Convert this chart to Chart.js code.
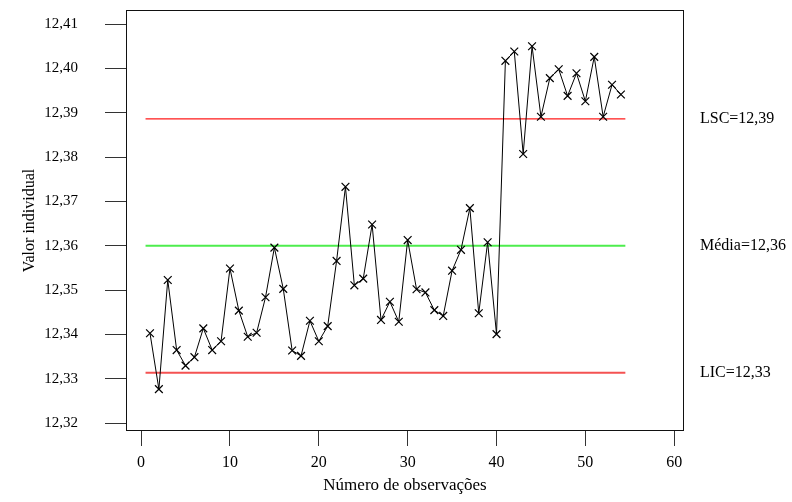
<!DOCTYPE html>
<html>
<head>
<meta charset="utf-8">
<script src="https://cdn.jsdelivr.net/npm/chart.js@4.4.1/dist/chart.umd.min.js"></script>
<style>
  html, body { margin: 0; padding: 0; background: #fff; }
  #wrap { width: 792px; height: 502px; }
</style>
</head>
<body>
<div id="wrap"><canvas id="grafico" width="792" height="502"></canvas></div>
<script>
// valores individuais (obs 1..54)
const valores = [
  12.3403, 12.3277, 12.3523, 12.3365, 12.3330, 12.3349, 12.3414, 12.3365, 12.3385, 12.3549,
  12.3454, 12.3395, 12.3404, 12.3484, 12.3596, 12.3503, 12.3364, 12.3352, 12.3431, 12.3385,
  12.3419, 12.3566, 12.3733, 12.3511, 12.3526, 12.3648, 12.3433, 12.3474, 12.3429, 12.3613,
  12.3502, 12.3495, 12.3455, 12.3442, 12.3544, 12.3591, 12.3685, 12.3448, 12.3608, 12.3401,
  12.4017, 12.4038, 12.3807, 12.4050, 12.3891, 12.3978, 12.3998, 12.3938, 12.3989, 12.3926,
  12.4026, 12.3891, 12.3963, 12.3941
];

const LSC = 12.3886;
const MEDIA = 12.3600;
const LIC = 12.3314;
const limites = [LSC, MEDIA, LIC];
const rotulosLimites = ['LSC=12,39', 'Média=12,36', 'LIC=12,33'];
const inicioLinha = 0.5;
const fimLinha = 54.5;

const fonte = "'Liberation Serif', 'Times New Roman', serif";

const pontos = valores.map((v, i) => ({ x: i + 1, y: v }));
const linhaLimite = v => [{ x: inicioLinha, y: v }, { x: fimLinha, y: v }];

// moldura completa em volta da area do grafico
const moldura = {
  id: 'moldura',
  afterDraw(chart) {
    const { ctx, chartArea: a } = chart;
    ctx.save();
    ctx.strokeStyle = '#111';
    ctx.lineWidth = 1;
    ctx.strokeRect(Math.round(a.left) + 0.5, Math.round(a.top) + 0.5,
      Math.round(a.right - a.left) - 1, Math.round(a.bottom - a.top) - 1);
    ctx.restore();
  }
};

// textos LSC / Media / LIC a direita
const rotulosDireita = {
  id: 'rotulosDireita',
  afterDraw(chart) {
    const { ctx, chartArea } = chart;
    const y = chart.scales.y;
    ctx.save();
    ctx.font = '16px ' + fonte;
    ctx.fillStyle = '#000';
    ctx.textAlign = 'left';
    ctx.textBaseline = 'middle';
    limites.forEach((v, i) => {
      ctx.fillText(rotulosLimites[i], chartArea.right + 16, y.getPixelForValue(v));
    });
    ctx.restore();
  }
};

new Chart(document.getElementById('grafico'), {
  type: 'line',
  data: {
    datasets: [
      {
        data: pontos,
        borderColor: '#000',
        borderWidth: 1,
        pointStyle: 'crossRot',
        pointRadius: 5.5,
        pointBorderColor: '#000',
        pointBorderWidth: 1.2,
        tension: 0
      },
      { data: linhaLimite(LSC), borderColor: '#ff1a1a', borderWidth: 1.2, pointRadius: 0 },
      { data: linhaLimite(MEDIA), borderColor: '#4ded4d', borderWidth: 2, pointRadius: 0 },
      { data: linhaLimite(LIC), borderColor: '#f45252', borderWidth: 2, pointRadius: 0 }
    ]
  },
  options: {
    responsive: false,
    animation: false,
    devicePixelRatio: 1,
    layout: { padding: { left: 16, right: 108, top: 10, bottom: 2 } },
    plugins: { legend: { display: false }, tooltip: { enabled: false } },
    scales: {
      x: {
        type: 'linear',
        min: -1.7,
        max: 61.1,
        afterFit: s => { s.height = 69; s.paddingLeft = 0; s.paddingRight = 0; },
        border: { display: false },
        grid: { drawOnChartArea: false, tickLength: 15, color: '#333' },
        ticks: {
          stepSize: 10,
          includeBounds: false,
          padding: 7,
          color: '#000',
          maxRotation: 0,
          font: { family: fonte, size: 16 }
        },
        title: {
          display: true,
          text: 'Número de observações',
          color: '#000',
          font: { family: fonte, size: 17 }
        }
      },
      y: {
        min: 12.31826,
        max: 12.41316,
        afterFit: s => { s.width = 110; s.paddingTop = 0; s.paddingBottom = 0; },
        border: { display: false },
        grid: { drawOnChartArea: false, tickLength: 21, color: '#333' },
        ticks: {
          stepSize: 0.01,
          includeBounds: false,
          padding: 27,
          color: '#000',
          font: { family: fonte, size: 15 },
          callback: v => v.toFixed(2).replace('.', ',')
        },
        title: {
          display: true,
          text: 'Valor individual',
          color: '#000',
          font: { family: fonte, size: 16 }
        }
      }
    }
  },
  plugins: [moldura, rotulosDireita]
});
</script>
</body>
</html>
